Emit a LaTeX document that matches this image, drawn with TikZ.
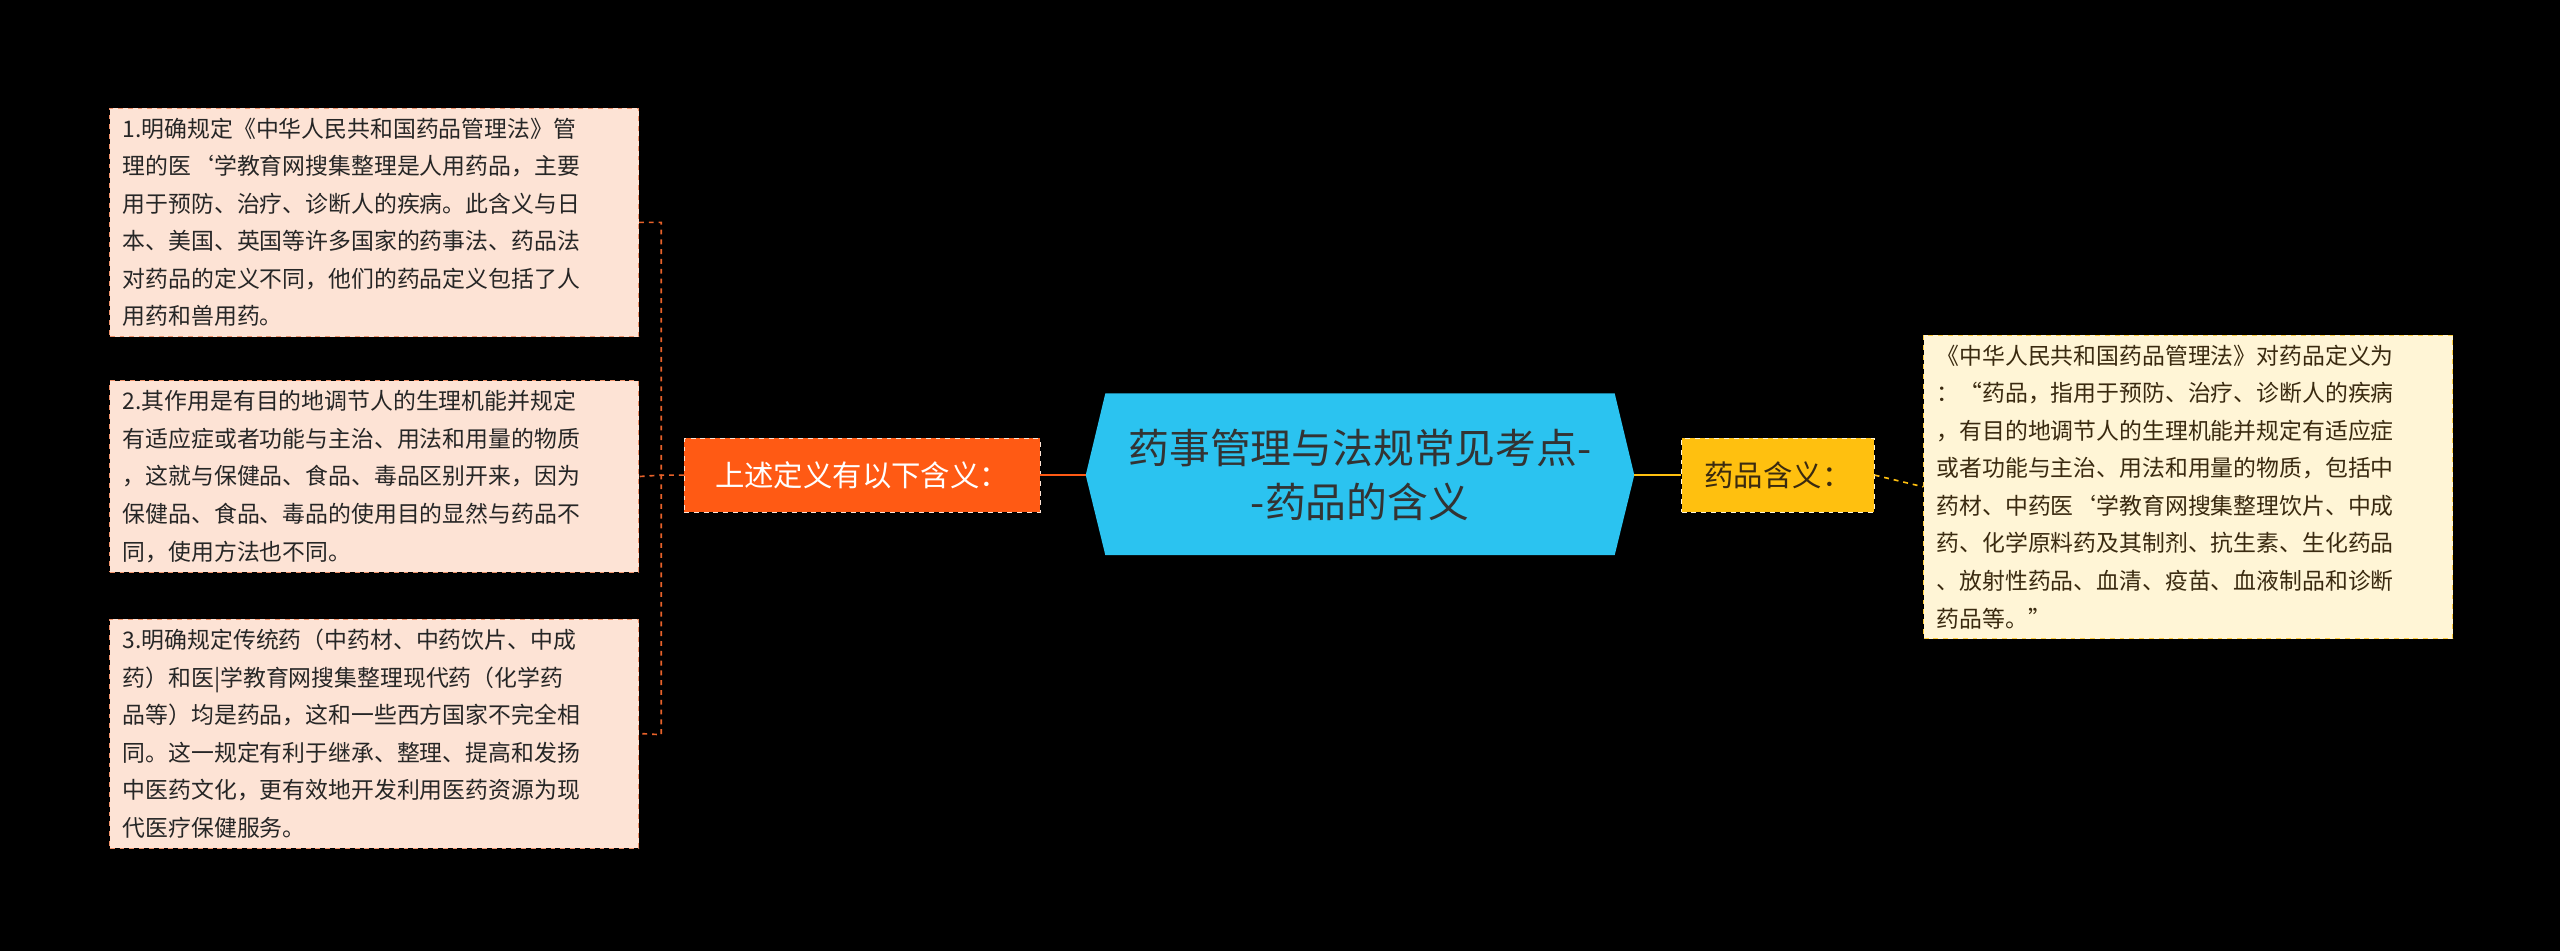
\documentclass[tikz,border=0pt]{standalone}
\usepackage{fontspec}
\setmainfont{Noto Sans CJK SC}
\usetikzlibrary{positioning}
\definecolor{peach}{HTML}{FDE3D5}
\definecolor{orng}{HTML}{FF5A14}
\definecolor{orline}{HTML}{E8622A}
\definecolor{sky}{HTML}{2BC3F0}
\definecolor{yel}{HTML}{FFC00F}
\definecolor{cream}{HTML}{FFF5D6}
\definecolor{darktxt}{HTML}{3A2A10}
\tikzset{
  leaf/.style={draw=orline!70!white, dashed, fill=peach, text=black!85, align=left, anchor=north west, inner xsep=8pt, inner ysep=6pt, font=\fontsize{14}{23}\selectfont, text width=308pt},
  rleaf/.style={draw=yel!80!white, dashed, fill=cream, text=darktxt, align=left, anchor=north west, inner xsep=8pt, inner ysep=6pt, font=\fontsize{14}{23}\selectfont, text width=308pt},
}
\begin{document}
\begin{tikzpicture}[x=1pt,y=-1pt]
\useasboundingbox[fill=black] (0,0) rectangle (1568,582.5);
% center
\fill[sky] (677,241) -- (989,241) -- (1001,291) -- (989,340) -- (677,340) -- (665,291) -- cycle;
\node[font=\fontsize{25}{33}\selectfont, text=black!80, align=center] (c) at (833,291) {药事管理与法规常见考点-\\-药品的含义};
\coordinate (cl) at (665,291);
\coordinate (cr) at (1001,291);
% orange
\node[fill=orng, draw=peach, dashed, text=white, font=\fontsize{18}{22}\selectfont, minimum width=218pt, minimum height=45pt, inner sep=0pt] (o) at (528,291) {上述定义有以下含义：};
\draw[orng, line width=1.5pt] (o.east) -- (cl);
% yellow
\node[fill=yel, draw=cream, dashed, text=darktxt, font=\fontsize{18}{22}\selectfont, minimum width=118pt, minimum height=45pt, inner sep=0pt] (y) at (1089,291) {药品含义：};
\draw[yel, line width=1.5pt] (cr) -- (y.west);
% left leaves
\node[leaf, minimum height=134pt] (l1) at (67,66) {1.明确规定《中华人民共和国药品管理法》管\\理的医`学教育网搜集整理是人用药品，主要\\用于预防、治疗、诊断人的疾病。此含义与日\\本、美国、英国等许多国家的药事法、药品法\\对药品的定义不同，他们的药品定义包括了人\\用药和兽用药。};
\node[leaf, minimum height=114pt] (l2) at (67,233) {2.其作用是有目的地调节人的生理机能并规定\\有适应症或者功能与主治、用法和用量的物质\\，这就与保健品、食品、毒品区别开来，因为\\保健品、食品、毒品的使用目的显然与药品不\\同，使用方法也不同。};
\node[leaf, minimum height=136pt] (l3) at (67,379) {3.明确规定传统药（中药材、中药饮片、中成\\药）和医|学教育网搜集整理现代药（化学药\\品等）均是药品，这和一些西方国家不完全相\\同。这一规定有利于继承、整理、提高和发扬\\中医药文化，更有效地开发利用医药资源为现\\代医疗保健服务。};
\coordinate (bt) at (405,133);
\coordinate (bb) at (405,450);
\coordinate (bm) at (405,291);
\draw[orline, dashed, line width=1pt] (l1.east) -- (l1.east -| bt) -- (bb) -- (l3.east);
\draw[orline, dashed, line width=1pt] (o.west) -- (bm) -- (l2.east);
% right leaf
\node[rleaf, minimum height=173pt] (r1) at (1178,205) {《中华人民共和国药品管理法》对药品定义为\\：“药品，指用于预防、治疗、诊断人的疾病\\，有目的地调节人的生理机能并规定有适应症\\或者功能与主治、用法和用量的物质，包括中\\药材、中药医`学教育网搜集整理饮片、中成\\药、化学原料药及其制剂、抗生素、生化药品\\、放射性药品、血清、疫苗、血液制品和诊断\\药品等。”};
\draw[yel, dashed, line width=1pt] (y.east) -- (r1.west);
\end{tikzpicture}
\end{document}
